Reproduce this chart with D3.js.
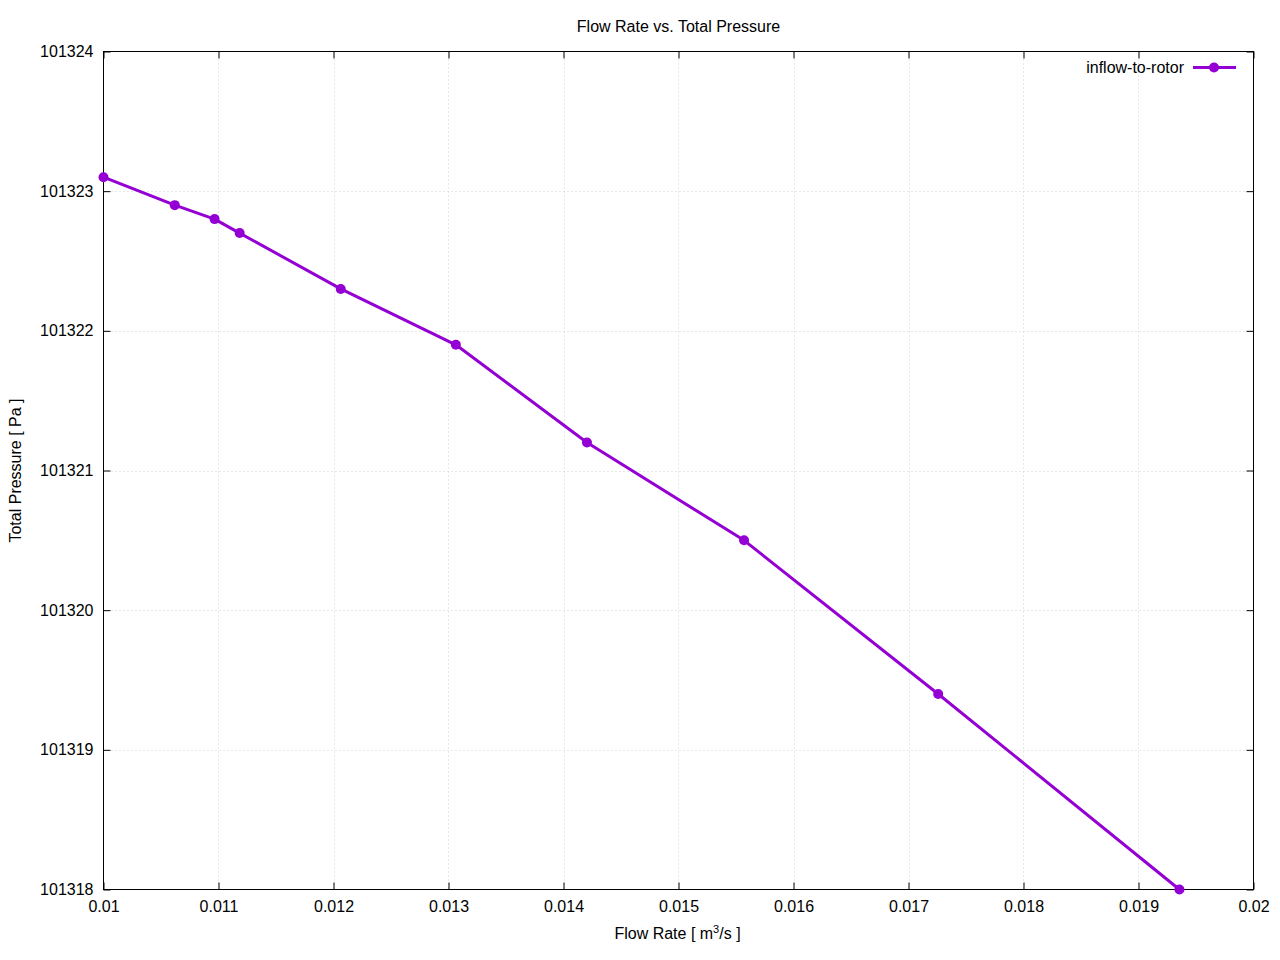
<!DOCTYPE html>
<html>
<head>
<meta charset="utf-8">
<script src="https://cdn.jsdelivr.net/npm/d3@7"></script>
<style>
html,body{margin:0;padding:0;background:#fff;}
text{font-family:"Liberation Sans",Arial,sans-serif;fill:#000;}
</style>
</head>
<body>
<svg id="chart" width="1280" height="960"></svg>
<script>
const flowRate = [0.01, 0.01062, 0.010966, 0.011184, 0.012063, 0.013064, 0.014204, 0.01557, 0.017258, 0.019356];
const totalPressure = [101323.1, 101322.9, 101322.8, 101322.7, 101322.3, 101321.9, 101321.2, 101320.5, 101319.4, 101318.0];
const xTicks = [0.01, 0.011, 0.012, 0.013, 0.014, 0.015, 0.016, 0.017, 0.018, 0.019, 0.02];
const yTicks = [101318, 101319, 101320, 101321, 101322, 101323, 101324];
const seriesName = "inflow-to-rotor";
const titleText = "Flow Rate vs. Total Pressure";

const svg = d3.select("#chart");
const L = 103.5, R = 1253.5, T = 51.5, B = 889.5;
const x = d3.scaleLinear().domain([0.01, 0.02]).range([L, R]);
const y = d3.scaleLinear().domain([101318, 101324]).range([B, T]);
const color = "#9400D3";
const fs = 16;

// grid
const grid = svg.append("g");
grid.selectAll(".gx").data(xTicks.slice(1, -1)).enter().append("line")
  .attr("x1", d => Math.round(x(d)) + 0.5).attr("x2", d => Math.round(x(d)) + 0.5)
  .attr("y1", T).attr("y2", B)
  .attr("stroke", "#d0d0d0").attr("stroke-width", 1).attr("stroke-dasharray", "1,3");
grid.selectAll(".gy").data(yTicks.slice(1, -1)).enter().append("line")
  .attr("y1", d => Math.round(y(d)) + 0.5).attr("y2", d => Math.round(y(d)) + 0.5)
  .attr("x1", L).attr("x2", R)
  .attr("stroke", "#d0d0d0").attr("stroke-width", 1).attr("stroke-dasharray", "1,3");

// axes (ticks inward, mirrored)
const tl = 7;
const fmtX = d => d3.format("")(+d.toFixed(3));
const axB = svg.append("g").attr("transform", `translate(0,${B})`)
  .call(d3.axisBottom(x).tickValues(xTicks).tickSize(-tl).tickPadding(tl + 10).tickFormat(fmtX));
const axT = svg.append("g").attr("transform", `translate(0,${T})`)
  .call(d3.axisTop(x).tickValues(xTicks).tickSize(-tl).tickFormat(""));
const axL = svg.append("g").attr("transform", `translate(${L},0)`)
  .call(d3.axisLeft(y).tickValues(yTicks).tickSize(-tl).tickPadding(tl + 10).tickFormat(d3.format("d")));
const axR = svg.append("g").attr("transform", `translate(${R},0)`)
  .call(d3.axisRight(y).tickValues(yTicks).tickSize(-tl).tickFormat(""));
[axB, axT, axL, axR].forEach(a => {
  a.select(".domain").remove();
  a.selectAll(".tick line").attr("stroke", "#000");
  a.selectAll("text").attr("font-size", fs).attr("font-family", "Liberation Sans, Arial, sans-serif").attr("fill", "#000");
});
axB.selectAll(".tick text").attr("dy", "0.35em").attr("y", 17);
axL.selectAll(".tick text").attr("x", -10);

// border
svg.append("rect").attr("x", L).attr("y", T).attr("width", R - L).attr("height", B - T)
  .attr("fill", "none").attr("stroke", "#000").attr("stroke-width", 1);

// line + points
const data = flowRate.map((f, i) => ({x: f, y: totalPressure[i]}));
svg.append("path").datum(data)
  .attr("d", d3.line().x(d => x(d.x)).y(d => y(d.y)))
  .attr("fill", "none").attr("stroke", color).attr("stroke-width", 3).attr("stroke-linejoin", "round");
svg.selectAll(".pt").data(data).enter().append("circle")
  .attr("cx", d => x(d.x)).attr("cy", d => y(d.y)).attr("r", 5).attr("fill", color);

// title and labels
svg.append("text").attr("x", (L + R) / 2).attr("y", 26).attr("dy", "0.35em")
  .attr("text-anchor", "middle").attr("font-size", fs).text(titleText);
const xl = svg.append("text").attr("x", (L + R) / 2 - 1).attr("y", 933).attr("dy", "0.35em")
  .attr("text-anchor", "middle").attr("font-size", fs);
xl.append("tspan").text("Flow Rate [ m");
xl.append("tspan").attr("font-size", 11).attr("dy", "-0.55em").text("3");
xl.append("tspan").attr("dy", "0.38em").text("/s ]");
svg.append("text").attr("transform", `translate(15,${(T + B) / 2}) rotate(-90)`).attr("dy", "0.35em")
  .attr("text-anchor", "middle").attr("font-size", fs).text("Total Pressure [ Pa ]");

// legend
const ly = 67.5;
svg.append("text").attr("x", 1184).attr("y", ly).attr("dy", "0.35em")
  .attr("text-anchor", "end").attr("font-size", fs).text(seriesName);
svg.append("line").attr("x1", 1193).attr("x2", 1236).attr("y1", ly).attr("y2", ly)
  .attr("stroke", color).attr("stroke-width", 3);
svg.append("circle").attr("cx", 1214).attr("cy", ly).attr("r", 5).attr("fill", color);
</script>
</body>
</html>
